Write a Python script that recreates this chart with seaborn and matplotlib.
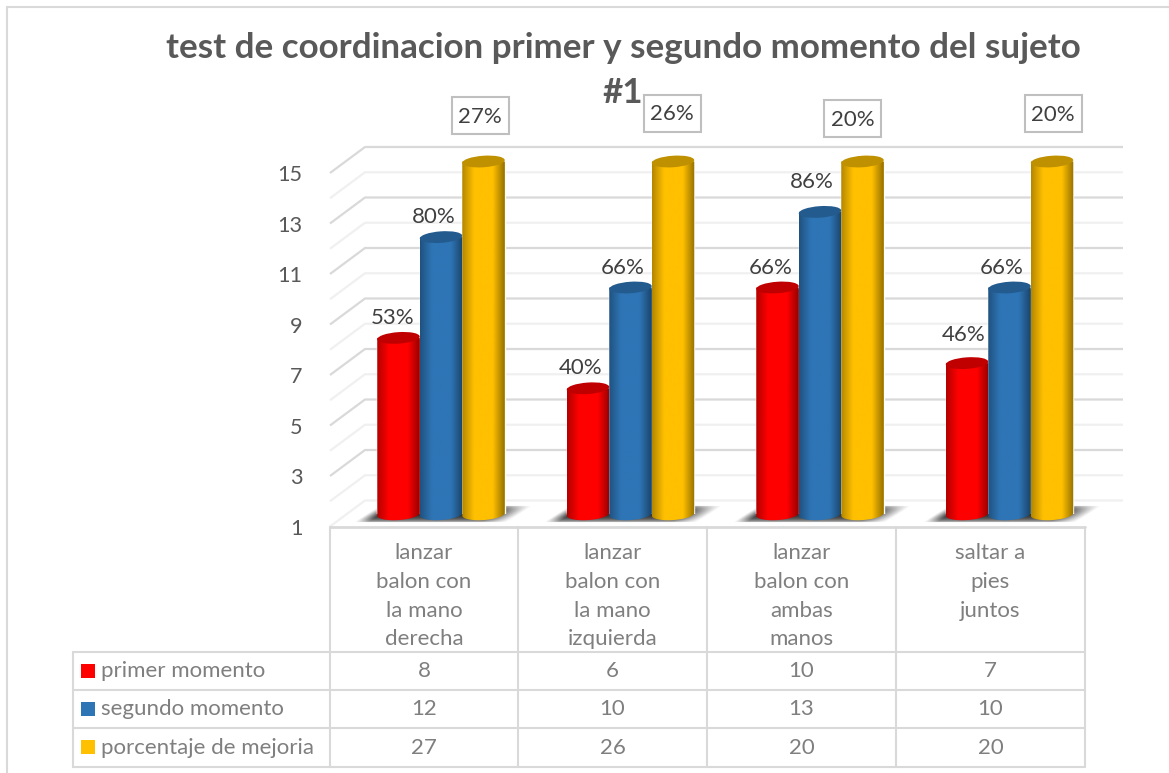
import numpy as np
import pandas as pd
import seaborn as sns
import matplotlib.pyplot as plt
from matplotlib.patches import Ellipse, Rectangle
from matplotlib.path import Path
from matplotlib.colors import to_rgb

title_lines = ['test de coordinacion primer y segundo momento del sujeto', '#1']
categories = ['lanzar\nbalon con\nla mano\nderecha', 'lanzar\nbalon con\nla mano\nizquierda',
              'lanzar\nbalon con\nambas\nmanos', 'saltar a\npies\njuntos']
series_names = ['primer momento', 'segundo momento', 'porcentaje de mejoria']
primer = [8, 6, 10, 7]
segundo = [12, 10, 13, 10]
mejoria = [27, 26, 20, 20]
labels_primer = ['53%', '40%', '66%', '46%']
labels_segundo = ['80%', '66%', '86%', '66%']
labels_mejoria = ['27%', '26%', '20%', '20%']
y_ticks = [1, 3, 5, 7, 9, 11, 13, 15]

colors = ['#FF0000', '#2E75B6', '#FFC000']
tops = ['#C00000', '#235B8E', '#BF9000']
line_col = '#D9D9D9'
W, H = 1169, 773

# label offsets from the bar top, in pixels (hand placed in the original)
off_primer = [(-6, 20), (-7, 20), (-7, 19), (-3, 28)]
off_segundo = [(-7, 20), (-8, 20), (-8, 30), (-8, 20)]
off_mejoria = [(-3.5, 46), (-1, 48.5), (-10, 43.5), (1, 48)]

sns.set_theme(style='white')
plt.rcParams['font.family'] = ['Lato', 'DejaVu Sans']

df = pd.DataFrame({
    'cat': categories * 3,
    'serie': np.repeat(series_names, 4),
    'valor': primer + segundo + mejoria,
})

fig = plt.figure(figsize=(W / 100, H / 100), dpi=100, facecolor='white')


def px_axes(left, top, right, bottom, **kw):
    return fig.add_axes([left / W, 1 - bottom / H, (right - left) / W, (bottom - top) / H], **kw)


# walls, gridlines and table live on a pixel axes behind the bars
back = fig.add_axes([0, 0, 1, 1], zorder=0)
back.set_xlim(0, W)
back.set_ylim(H, 0)
back.axis('off')

back.plot([7, W], [7, 7], color=line_col, lw=1.5)
back.plot([7, 7], [7, H], color=line_col, lw=1.5)

for v in range(1, 16):
    y_back = 147 + (15 - v) * 25.25
    y_front = 173 + (15 - v) * 25.25
    major = v % 2 == 1
    c = '#D9D9D9' if major else '#F0F0F0'
    if v == 1:
        c = '#F0F0F0'
    back.plot([330, 365, 1123], [y_front, y_back, y_back], color=c, lw=1.6, solid_capstyle='butt')

rows = [652, 690, 728, 767]
cols = [330, 518, 707, 896, 1085]
for y in rows:
    back.plot([73, 1085], [y, y], color=line_col, lw=1.5)
back.plot([330, 1085], [527, 527], color=line_col, lw=2)
back.plot([73, 73], [652, 767], color=line_col, lw=1.5)
for x in cols:
    back.plot([x, x], [527, 767], color=line_col, lw=1.5)

text_col = '#7F7F7F'
fs = 16
for i, cat in enumerate(categories):
    cx = (cols[i] + cols[i + 1]) / 2
    back.text(cx, 543, cat, ha='center', va='top', fontsize=fs, color=text_col, linespacing=1.55)
for r, (name, values) in enumerate(zip(series_names, [primer, segundo, mejoria])):
    cy = (rows[r] + rows[r + 1]) / 2
    back.add_patch(Rectangle((81, cy - 7.5), 14, 14, color=colors[r], lw=0))
    back.text(101, cy, name, ha='left', va='center', fontsize=fs, color=text_col)
    for i, val in enumerate(values):
        back.text((cols[i] + cols[i + 1]) / 2, cy, str(val), ha='center', va='center',
                  fontsize=fs, color=text_col)

for line, y in zip(title_lines, [48, 93]):
    back.text(623, y, line, ha='center', va='center', fontsize=25.2, fontweight='bold', color='#595959')

# front plane carries the value axis
front = px_axes(330, 173, 1085, 527, zorder=1)
front.set_ylim(1, 15)
front.set_yticks(y_ticks)
front.set_xticks([])
front.patch.set_alpha(0)
sns.despine(ax=front, left=True, bottom=True)
front.tick_params(axis='y', length=0, pad=20, labelsize=15.6, labelcolor='#595959')

# bars
ax = px_axes(346.25, 161.5, 1104.25, 514.3, zorder=2)
sns.barplot(data=df, x='cat', y='valor', hue='serie', hue_order=series_names, order=categories,
            palette=colors, width=0.673, gap=0, saturation=1, legend=False, ax=ax)
ax.set_xlim(-0.5, 3.5)
ax.set_ylim(1, 15)
ax.patch.set_alpha(0)
ax.set_xticks([])
ax.set_yticks([])
ax.set_xlabel('')
ax.set_ylabel('')
sns.despine(ax=ax, left=True, bottom=True)

shade = fig.add_axes([0, 0, 1, 1], zorder=3)
shade.patch.set_alpha(0)
shade.axis('off')


def to_px(x, y):
    dx, dy = ax.transData.transform((x, y))
    return dx, H - dy


bars = list(ax.patches)
n = len(categories)
ell_h = 11.5
tilt = np.radians(-4)


def arc(cx, cy, w, start, stop):
    t = np.linspace(start, stop, 40)
    ex, ey = w / 2 * np.cos(t), ell_h / 2 * np.sin(t)
    return cx + ex * np.cos(tilt) - ey * np.sin(tilt), cy + ex * np.sin(tilt) + ey * np.cos(tilt)


ramp = np.linspace(0, 1, 120)
dark = np.interp(ramp, [0, 0.28, 0.72, 1], [0.30, 0, 0, 0.42])

for s in range(3):
    rgb = np.array(to_rgb(colors[s]))
    strip = (rgb[None, :] * (1 - dark[:, None]))[None, :, :]
    for i in range(n):
        p = bars[s * n + i]
        x0, _ = to_px(p.get_x(), 1)
        x1, _ = to_px(p.get_x() + p.get_width(), 1)
        cx = (x0 + x1) / 2
        w = x1 - x0
        _, y_top = to_px(0, min(p.get_height(), 15))
        _, y_base = to_px(0, 1)
        ax_b, ay_b = arc(cx, y_base, w, 0, np.pi)
        outline = np.column_stack([np.r_[x0, x1, ax_b], np.r_[y_top, y_top, ay_b]])
        im = shade.imshow(strip, extent=(x0, x1, y_base + 8, y_top), aspect='auto',
                          interpolation='bilinear', zorder=2 + s)
        im.set_clip_path(Path(np.vstack([outline, outline[:1]]), closed=True), transform=shade.transData)
        shade.add_patch(Ellipse((cx, y_top), w, ell_h, angle=np.degrees(tilt), color=tops[s], lw=0,
                                zorder=2 + s))

shade.set_xlim(0, W)
shade.set_ylim(H, 0)

# soft shadow on the floor under each group
for i in range(n):
    xl = to_px(bars[i].get_x(), 1)[0]
    xr = to_px(bars[2 * n + i].get_x() + bars[2 * n + i].get_width(), 1)[0]
    gx, gy = np.meshgrid(np.arange(xl - 28, xr + 30), np.linspace(505, 523, 19))
    v = (gy - 505) / 18
    left_edge = xl + 3 - 27 * v
    right_edge = xr + 28 - 27 * v
    alpha = np.clip((gx - left_edge) / 14, 0, 1) * np.clip((right_edge - gx) / 26, 0, 1)
    alpha = alpha * np.sin(np.pi * v) ** 0.5
    img = np.dstack([np.full_like(alpha, 0.2)] * 3 + [alpha])
    back.imshow(img, extent=(xl - 28, xr + 30, 523, 505), aspect='auto', interpolation='bilinear', zorder=1)
back.set_xlim(0, W)
back.set_ylim(H, 0)

# data labels
label_col = '#404040'
for i in range(n):
    for s, (labs, offs) in enumerate([(labels_primer, off_primer), (labels_segundo, off_segundo)]):
        p = bars[s * n + i]
        shade.annotate(labs[i], xy=(p.get_x() + p.get_width() / 2, p.get_height()), xycoords=ax.transData,
                       xytext=(offs[i][0] * 0.72, offs[i][1] * 0.72), textcoords='offset points',
                       ha='center', va='center', fontsize=fs, color=label_col, zorder=8)
    # the yellow bars run past the axis top, so their boxes hang off the clipped top
    p = bars[2 * n + i]
    bx, by = to_px(p.get_x() + p.get_width() / 2, 15)
    bx, by = bx + off_mejoria[i][0], by - off_mejoria[i][1]
    shade.add_patch(Rectangle((bx - 28.5, by - 18.5), 57, 37, fc='white', ec='#BFBFBF', lw=1.5, zorder=7))
    shade.text(bx, by + 1.5, labels_mejoria[i], ha='center', va='center', fontsize=fs, color=label_col, zorder=8)

fig.savefig('out.png', dpi=100)
